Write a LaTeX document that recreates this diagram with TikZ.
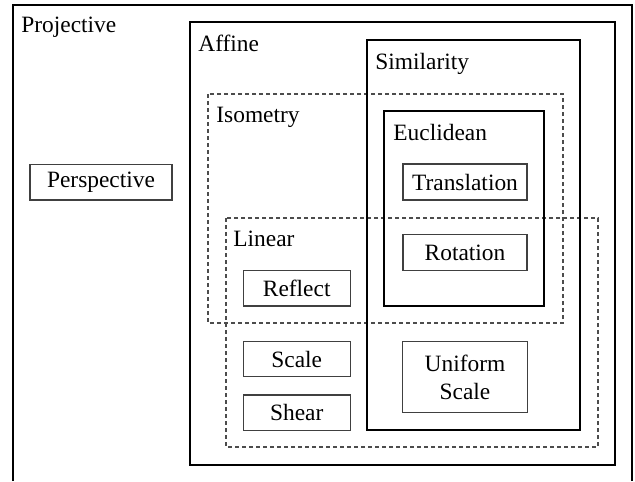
\documentclass[tikz,border=0pt]{standalone}
\usepackage{fontspec}
\setmainfont{Liberation Serif}
\usepackage{tikz}

\tikzset{
  tfont/.style={font=\fontsize{11.7}{14}\selectfont},
  tbox/.style={tfont, draw=black!75, line width=0.6pt, inner sep=0pt, align=center},
  frame/.style={draw=black, line width=1.15pt},
  dframe/.style={draw=black!70, line width=0.55pt, dash pattern={on 2pt off 1.5pt}},
  lbl/.style={tfont, anchor=base west, inner sep=0pt},
}

\begin{document}
\begin{tikzpicture}[x=0.5pt,y=0.5pt,yscale=-1,xscale=1]
\useasboundingbox (0,0) rectangle (635,481);
\draw [frame] (13,481) -- (13,5) -- (632,5) -- (632,481);
\draw [frame] (190,22) rectangle (615,465);
\draw [dframe] (208,94) rectangle (563,323);
\draw [dframe] (226,218) rectangle (598,447);
\draw [frame] (367,40) rectangle (580,430);
\draw [frame] (384,111) rectangle (544,306);
\node [lbl] (projective) at (21,33) {Projective};
\node [lbl] (affine) at (198,51.5) {Affine};
\node [lbl] (similarity) at (375,69) {Similarity};
\node [lbl] (isometry) at (216,122.5) {Isometry};
\node [lbl] (euclidean) at (393,140) {Euclidean};
\node [lbl] (linear) at (233,246) {Linear};
\node [tbox, minimum width=71pt, minimum height=17.8pt] (perspective) at (101,182.2) {Perspective};
\node [tbox, minimum width=62pt, minimum height=18pt] (translation) at (465,182) {Translation};
\node [tbox, minimum width=62pt, minimum height=18pt] (rotation) at (465,252.8) {Rotation};
\node [tbox, minimum width=53.5pt, minimum height=17.6pt] (reflect) at (296.7,288.3) {Reflect};
\node [tbox, minimum width=53.5pt, minimum height=17.6pt] (scale) at (296.7,359.2) {Scale};
\node [tbox, minimum width=53.5pt, minimum height=17.6pt] (shear) at (296.7,412.5) {Shear};
\node [tbox, minimum width=62.3pt, minimum height=35.5pt] (uniform) at (465,377.2) {Uniform\\Scale};
\end{tikzpicture}
\end{document}
